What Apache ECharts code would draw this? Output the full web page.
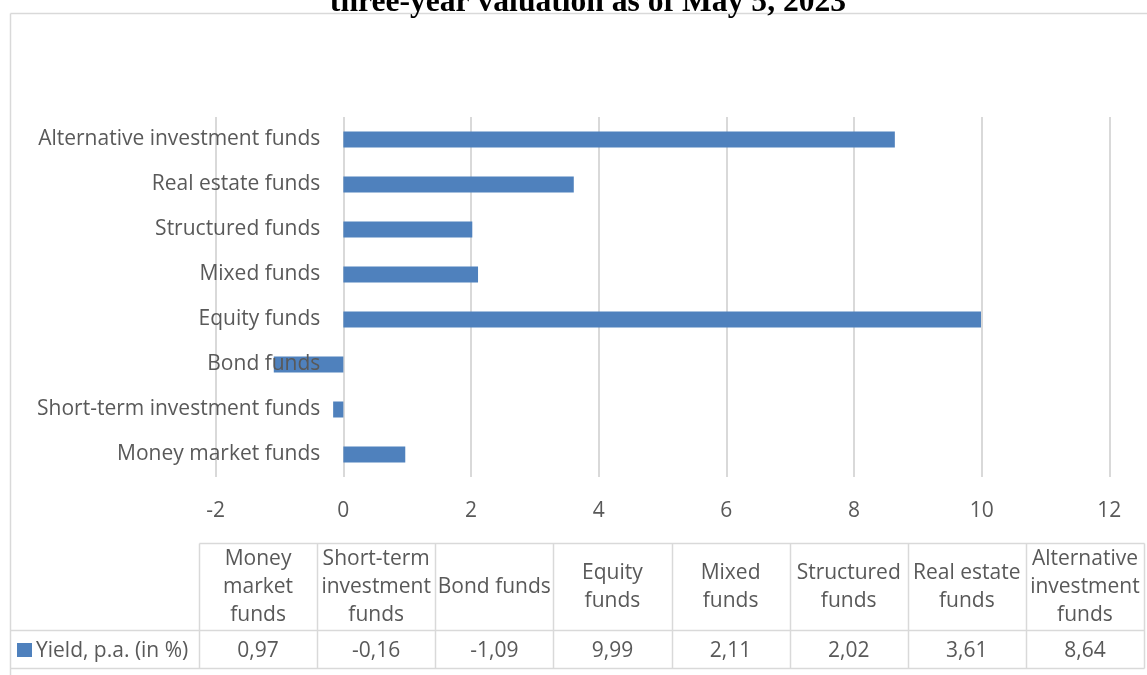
<!DOCTYPE html>
<html>
<head>
<meta charset="utf-8">
<script src="https://cdn.jsdelivr.net/npm/echarts@6/dist/echarts.min.js"></script>
<style>
  html, body { margin: 0; padding: 0; background: #ffffff; }
  #chart { width: 1147px; height: 675px; }
</style>
</head>
<body>
<div id="chart"></div>
<script>
// Fund categories, bottom to top on the bar axis and left to right in the table
const categories = [
  'Money market funds',
  'Short-term investment funds',
  'Bond funds',
  'Equity funds',
  'Mixed funds',
  'Structured funds',
  'Real estate funds',
  'Alternative investment funds'
];
// Wrapped versions of the category names for the data table header
const headerLabels = [
  'Money\nmarket\nfunds',
  'Short-term\ninvestment\nfunds',
  'Bond funds',
  'Equity\nfunds',
  'Mixed\nfunds',
  'Structured\nfunds',
  'Real estate\nfunds',
  'Alternative\ninvestment\nfunds'
];
// Yield per annum, in percent
const yieldValues = [0.97, -0.16, -1.09, 9.99, 2.11, 2.02, 3.61, 8.64];
const seriesName = 'Yield, p.a. (in %)';
const xTickMin = -2;
const xTickMax = 12;
const xTickStep = 2;
const titleText = 'three-year valuation as of May 5, 2023';

const FONT = '"Open Sans"';
const FONT_SIZE = 21;
const TEXT_COLOR = '#595959';
const LINE_COLOR = '#d9d9d9';
const BAR_COLOR = '#4f81bd';

const chart = echarts.init(document.getElementById('chart'), null, { renderer: 'canvas' });

// Plot area
const gridLeft = 215.7, gridRight = 1109.3, gridTop = 117, gridBottom = 477;
// Data table geometry
const tableLeft = 199, tableRight = 1144;
const headTop = 543, rowTop = 630, rowBottom = 668;
const frameLeft = 10, frameTop = 13;
const colW = (tableRight - tableLeft) / categories.length;

const fmt = v => v.toFixed(2).replace('.', ',');
const px = v => Math.round(v) + 0.5;
const lineEl = (x1, y1, x2, y2, w) => ({
  type: 'line', silent: true,
  shape: { x1: px(x1), y1: px(y1), x2: px(x2), y2: px(y2) },
  style: { stroke: LINE_COLOR, lineWidth: w || 1.5 }
});

const graphics = [];
// outer chart frame (left and top edges)
graphics.push(lineEl(frameLeft, frameTop, frameLeft, 675));
graphics.push(lineEl(frameLeft, frameTop, 1147, frameTop));
// title
graphics.push({
  type: 'text', silent: true,
  style: {
    text: titleText, x: 588, y: 19, align: 'center', verticalAlign: 'bottom',
    font: 'bold 31.6px "Liberation Serif"', fill: '#000000'
  }
});
// table grid lines
graphics.push(lineEl(tableLeft, headTop, tableRight, headTop));
graphics.push(lineEl(frameLeft, rowTop, tableRight, rowTop));
graphics.push(lineEl(frameLeft, rowBottom, tableRight, rowBottom));
for (let i = 0; i <= categories.length; i++) {
  const x = tableLeft + i * colW;
  graphics.push(lineEl(x, headTop, x, rowBottom));
}
// header cells and value cells
categories.forEach((c, i) => {
  const cx = tableLeft + (i + 0.5) * colW;
  graphics.push({
    type: 'text', silent: true,
    style: {
      text: headerLabels[i], x: cx, y: (headTop + rowTop) / 2 + 1,
      align: 'center', verticalAlign: 'middle', lineHeight: 28,
      font: FONT_SIZE + 'px ' + FONT, fill: TEXT_COLOR
    }
  });
  graphics.push({
    type: 'text', silent: true,
    style: {
      text: fmt(yieldValues[i]), x: cx, y: (rowTop + rowBottom) / 2 + 2.5,
      align: 'center', verticalAlign: 'middle',
      font: FONT_SIZE + 'px ' + FONT, fill: TEXT_COLOR
    }
  });
});
// legend key and series name in the row header
graphics.push({
  type: 'rect', silent: true,
  shape: { x: 17, y: 643, width: 15, height: 14 },
  style: { fill: BAR_COLOR }
});
graphics.push({
  type: 'text', silent: true,
  style: {
    text: seriesName, x: 36, y: (rowTop + rowBottom) / 2 + 2.5,
    align: 'left', verticalAlign: 'middle',
    font: FONT_SIZE + 'px ' + FONT, fill: TEXT_COLOR
  }
});

// category labels sit beside the zero line of the value axis
const zeroOffset = (0 - xTickMin) / (xTickMax - xTickMin) * (gridRight - gridLeft);

chart.setOption({
  animation: false,
  backgroundColor: '#ffffff',
  textStyle: { fontFamily: FONT },
  grid: {
    left: gridLeft, right: 1147 - gridRight, top: gridTop, bottom: 675 - gridBottom,
    containLabel: false, outerBoundsMode: 'none'
  },
  xAxis: {
    type: 'value',
    min: xTickMin, max: xTickMax, interval: xTickStep,
    axisLine: { show: false },
    axisTick: { show: false },
    axisLabel: { color: TEXT_COLOR, fontSize: FONT_SIZE, fontFamily: FONT, margin: 24 },
    splitLine: { show: true, lineStyle: { color: LINE_COLOR, width: 2 } }
  },
  yAxis: {
    type: 'category',
    data: categories,
    offset: -zeroOffset,
    z: 5,
    axisLine: { show: false, onZero: false },
    axisTick: { show: false },
    axisLabel: {
      color: TEXT_COLOR, fontSize: FONT_SIZE, fontFamily: FONT, margin: 23,
      padding: [4, 0, 0, 0]
    },
    splitLine: { show: false }
  },
  series: [{
    name: seriesName,
    type: 'bar',
    data: yieldValues,
    barWidth: 16,
    itemStyle: { color: BAR_COLOR },
    z: 1
  }],
  graphic: graphics
});
</script>
</body>
</html>
